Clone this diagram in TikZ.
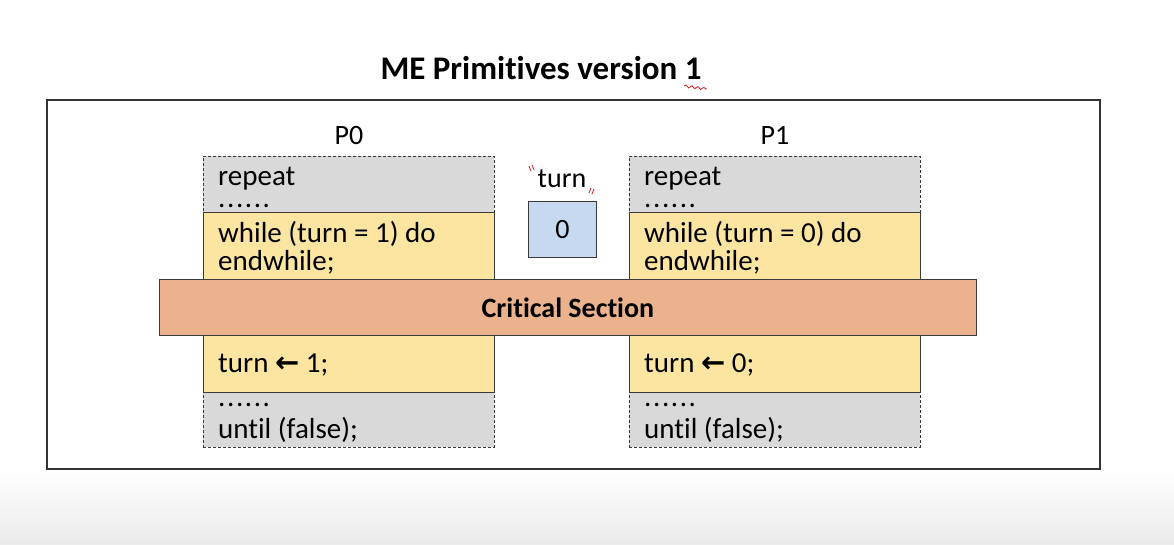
\documentclass[tikz,border=0pt]{standalone}
\usepackage{fontspec}
\setmainfont{Carlito}[Ligatures=CommonOff]
\newfontfamily\arrowfont{DejaVu Sans}
\usetikzlibrary{decorations.pathmorphing}
\definecolor{codegray}{HTML}{D9D9D9}
\definecolor{waitgold}{HTML}{FBE5A1}
\definecolor{csorange}{HTML}{EBB28E}
\definecolor{varblue}{HTML}{C6D9F0}
\definecolor{edge}{HTML}{3A3A3A}
\definecolor{frameline}{HTML}{333333}
\definecolor{spellred}{HTML}{D03030}
% a row of six spaced-out dots
\newcommand\elidedots{.\kern1.6pt.\kern1.6pt.\kern1.6pt.\kern1.6pt.\kern1.6pt.}
\newcommand\assignarrow{{\arrowfont\bfseries ←}}
\begin{document}
\begin{tikzpicture}[x=1pt,y=-1pt,
  block/.style={draw=edge, line width=0.8pt, anchor=north west, inner sep=0pt, minimum width=291pt},
  restblock/.style={block, fill=codegray, dash pattern=on 3pt off 2pt},
  guardblock/.style={block, fill=waitgold},
  codeline/.style={anchor=base west, font=\fontsize{29}{33}\selectfont, inner sep=0pt},
  caption/.style={anchor=base, font=\fontsize{28}{32}\selectfont, inner sep=0pt},
  squiggle/.style={spellred, line width=0.9pt}]

% page and bottom fade
\useasboundingbox (0,0) rectangle (1174,544);
\fill[white] (0,0) rectangle (1174,544);
\shade[top color=white, bottom color=black!8] (0,470) rectangle (1174,544);

% title
\node[anchor=base, font=\fontsize{33}{38}\selectfont\bfseries, inner sep=0pt] (title) at (541,79) {ME Primitives version 1};
\draw[squiggle, decorate, decoration={snake, amplitude=1.2pt, segment length=6pt}] (684,86) -- (707,89);

% outer frame
\draw[frameline, line width=1.4pt] (47,100) rectangle (1100,469);

% process P0
\node[caption] (p0name) at (349,144) {P0};
\node[restblock, minimum height=56pt] (p0head) at (203,156) {};
\node[restblock, minimum height=55pt] (p0tail) at (203,392) {};
\node[guardblock, minimum height=67pt] (p0entry) at (203,212) {};
\node[guardblock, minimum height=57pt] (p0exit) at (203,335) {};
\node[codeline] (p0repeat) at (218,185) {repeat};
\node[codeline] (p0dots1) at (218,207) {\elidedots};
\node[codeline] (p0while) at (218,242) {while (turn = 1) do};
\node[codeline] (p0endw) at (218,270) {endwhile;};
\node[codeline] (p0set) at (218,372) {turn \assignarrow\ 1;};
\node[codeline] (p0dots2) at (218,406) {\elidedots};
\node[codeline] (p0until) at (218,438) {until (false);};

% process P1
\node[caption] (p1name) at (775,144) {P1};
\node[restblock, minimum height=56pt] (p1head) at (629,156) {};
\node[restblock, minimum height=55pt] (p1tail) at (629,392) {};
\node[guardblock, minimum height=67pt] (p1entry) at (629,212) {};
\node[guardblock, minimum height=57pt] (p1exit) at (629,335) {};
\node[codeline] (p1repeat) at (644,185) {repeat};
\node[codeline] (p1dots1) at (644,207) {\elidedots};
\node[codeline] (p1while) at (644,242) {while (turn = 0) do};
\node[codeline] (p1endw) at (644,270) {endwhile;};
\node[codeline] (p1set) at (644,372) {turn \assignarrow\ 0;};
\node[codeline] (p1dots2) at (644,406) {\elidedots};
\node[codeline] (p1until) at (644,438) {until (false);};

% shared variable
\node[caption] (turnname) at (562,187) {turn};
\draw[squiggle] (529,166) -- (531,171) (532,165) -- (534,170);
\draw[squiggle] (589,193) -- (591,188) (592,194) -- (594,189);
\node[draw=edge, line width=0.8pt, fill=varblue, anchor=north west, minimum width=68pt, minimum height=56pt, inner sep=0pt, font=\fontsize{28}{32}\selectfont] (turnvar) at (528,201) {0};

% critical section band
\node[draw=edge, line width=0.8pt, fill=csorange, anchor=north west, minimum width=817pt, minimum height=56pt, inner sep=0pt, font=\fontsize{28}{32}\selectfont\bfseries] (cs) at (159,279) {Critical Section};
\end{tikzpicture}
\end{document}
